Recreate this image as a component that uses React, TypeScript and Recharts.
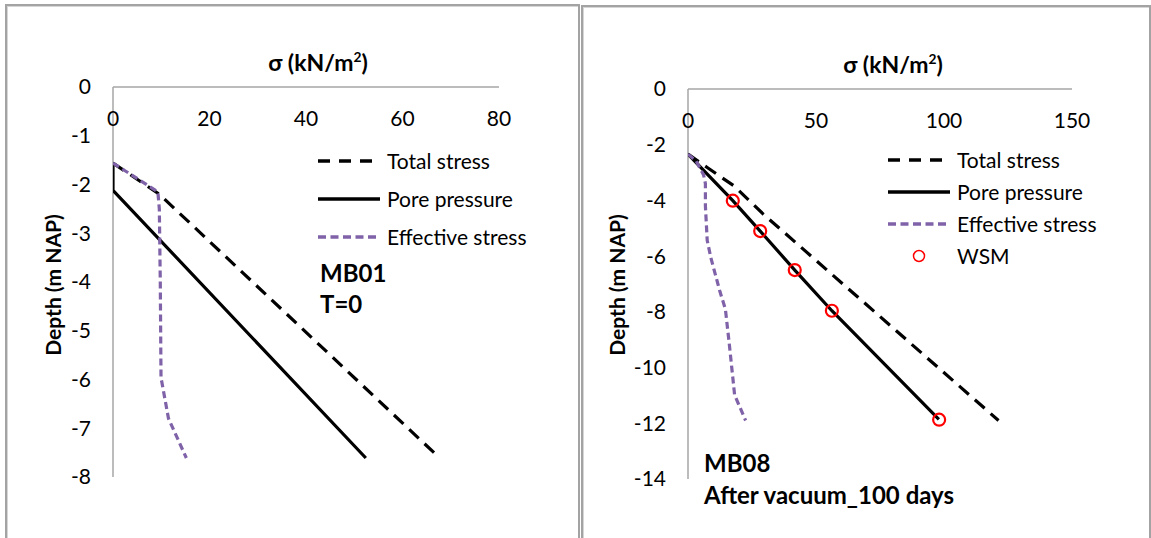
import React from "react"
import { ScatterChart, Scatter, XAxis, YAxis } from "recharts"

const FONT = "Lato, 'Liberation Sans', sans-serif"
const PURPLE = "#7f62a8"
const AXIS_GRAY = "#a6a6a6"

// MB01, T=0  (x = stress kN/m2, y = depth m NAP)
const mb01TotalStress = [
  { x: 0, y: -1.56 },
  { x: 9.6, y: -2.2 },
  { x: 67.7, y: -7.61 },
]
const mb01PorePressure = [
  { x: 0, y: -1.56 },
  { x: 0, y: -2.12 },
  { x: 52.4, y: -7.61 },
]
const mb01EffectiveStress = [
  { x: 0, y: -1.56 },
  { x: 9.3, y: -2.15 },
  { x: 9.6, y: -2.5 },
  { x: 9.8, y: -4.0 },
  { x: 9.95, y: -5.96 },
  { x: 11.5, y: -6.8 },
  { x: 15.2, y: -7.61 },
]
const mb01XTicks = [0, 20, 40, 60, 80]
const mb01YTicks = [0, -1, -2, -3, -4, -5, -6, -7, -8]

// MB08, after vacuum 100 days
const mb08TotalStress = [
  { x: 0, y: -2.34 },
  { x: 7.5, y: -2.82 },
  { x: 18, y: -3.48 },
  { x: 29.5, y: -4.5 },
  { x: 121.3, y: -11.9 },
]
const mb08PorePressure = [
  { x: 0, y: -2.34 },
  { x: 17.5, y: -4.01 },
  { x: 28.2, y: -5.1 },
  { x: 41.7, y: -6.5 },
  { x: 56.2, y: -7.96 },
  { x: 98.0, y: -11.86 },
]
const mb08EffectiveStress = [
  { x: 0, y: -2.34 },
  { x: 3.2, y: -2.59 },
  { x: 6.1, y: -3.09 },
  { x: 6.8, y: -3.4 },
  { x: 6.8, y: -4.2 },
  { x: 7.5, y: -5.43 },
  { x: 8.9, y: -6.05 },
  { x: 12.5, y: -7.28 },
  { x: 14.6, y: -7.9 },
  { x: 16.1, y: -9.13 },
  { x: 17.5, y: -10.36 },
  { x: 18.2, y: -10.98 },
  { x: 22.5, y: -11.9 },
]
const mb08Wsm = [
  { x: 17.5, y: -4.01 },
  { x: 28.2, y: -5.1 },
  { x: 41.7, y: -6.5 },
  { x: 56.2, y: -7.96 },
  { x: 98.1, y: -11.87 },
]
const mb08XTicks = [0, 50, 100, 150]
const mb08YTicks = [0, -2, -4, -6, -8, -10, -12, -14]

const noShape = () => <g />

function TopTick(props: any) {
  const { x, y, payload } = props
  return (
    <text x={x} y={y + 30} textAnchor="middle" dominantBaseline="central" fill="#000" fontSize={21} fontFamily={FONT}>
      {payload.value}
    </text>
  )
}

function StressChart({ width, margin, xDomain, xTicks, yDomain, yTicks, total, pore, effective, wsm }: any) {
  return (
    <ScatterChart width={width} height={538} margin={margin}>
      <XAxis
        type="number"
        dataKey="x"
        orientation="top"
        domain={xDomain}
        ticks={xTicks}
        height={20}
        tickSize={0}
        tickMargin={0}
        tickLine={false}
        axisLine={{ stroke: AXIS_GRAY, strokeWidth: 1.5 }}
        tick={(p: any) => <TopTick {...p} />}
        allowDataOverflow
      />
      <YAxis
        type="number"
        dataKey="y"
        domain={yDomain}
        ticks={yTicks}
        width={60}
        tickSize={0}
        tickMargin={22}
        tickLine={false}
        axisLine={{ stroke: AXIS_GRAY, strokeWidth: 1.5 }}
        tick={{ fill: "#000", fontSize: 21, fontFamily: FONT }}
        allowDataOverflow
      />
      <Scatter
        data={total}
        line={{ stroke: "#000", strokeWidth: 3.2, strokeDasharray: "13 8" }}
        shape={noShape}
        isAnimationActive={false}
      />
      <Scatter data={pore} line={{ stroke: "#000", strokeWidth: 3.2 }} shape={noShape} isAnimationActive={false} />
      <Scatter
        data={effective}
        line={{ stroke: PURPLE, strokeWidth: 3.2, strokeDasharray: "7 4" }}
        shape={noShape}
        isAnimationActive={false}
      />
      {wsm && (
        <Scatter
          data={wsm}
          shape={(p: any) => <circle cx={p.cx} cy={p.cy} r={6} fill="none" stroke="#ff0000" strokeWidth={2.2} />}
          isAnimationActive={false}
        />
      )}
    </ScatterChart>
  )
}

function LegendRow({ left, top, label, kind }: any) {
  let sample: React.ReactNode = null
  if (kind === "total") sample = <line x1={0} y1={10} x2={62} y2={10} stroke="#000" strokeWidth={3.4} strokeDasharray="12 9" />
  if (kind === "pore") sample = <line x1={0} y1={10} x2={62} y2={10} stroke="#000" strokeWidth={3.4} />
  if (kind === "effective") sample = <line x1={0} y1={10} x2={62} y2={10} stroke={PURPLE} strokeWidth={3.4} strokeDasharray="8 4.5" />
  if (kind === "wsm") sample = <circle cx={31} cy={10} r={5.5} fill="none" stroke="#ff0000" strokeWidth={1.5} />
  return (
    <div style={{ position: "absolute", left, top: top - 10, height: 20, display: "flex", alignItems: "center" }}>
      <svg width={62} height={20} style={{ display: "block" }}>
        {sample}
      </svg>
      <span style={{ marginLeft: 7, fontFamily: FONT, fontSize: 21, lineHeight: "20px", color: "#000", whiteSpace: "nowrap" }}>
        {label}
      </span>
    </div>
  )
}

function CenterText({ x, y, children, rotate, size = 21 }: any) {
  return (
    <div
      style={{
        position: "absolute",
        left: x,
        top: y,
        transform: `translate(-50%, -50%)${rotate ? " rotate(-90deg)" : ""}`,
        fontFamily: FONT,
        fontWeight: 700,
        fontSize: size,
        lineHeight: 1,
        whiteSpace: "nowrap",
        color: "#000",
      }}
    >
      {children}
    </div>
  )
}

function LeftText({ x, y, children }: any) {
  return (
    <div
      style={{
        position: "absolute",
        left: x,
        top: y,
        transform: "translateY(-50%)",
        fontFamily: FONT,
        fontWeight: 700,
        fontSize: 24,
        lineHeight: 1,
        whiteSpace: "nowrap",
        color: "#000",
      }}
    >
      {children}
    </div>
  )
}

const sigmaTitle = (
  <>
    σ (kN/m<sup style={{ fontSize: "0.6em", verticalAlign: "0.6em" }}>2</sup>)
  </>
)

export default function App() {
  return (
    <div style={{ position: "absolute", left: 0, top: 0, width: 1151, height: 538, overflow: "hidden", background: "#fff" }}>
      <div
        style={{
          position: "absolute",
          left: 5,
          top: 4,
          width: 575,
          height: 600,
          boxSizing: "border-box",
          border: "2px solid #a3a3a3",
          boxShadow: "inset 1px 1px 0 #d6d6d6",
        }}
      />
      <div
        style={{
          position: "absolute",
          left: 581,
          top: 5,
          width: 570,
          height: 600,
          boxSizing: "border-box",
          border: "2px solid #a3a3a3",
          boxShadow: "inset 1px 1px 0 #d6d6d6",
        }}
      />

      <div style={{ position: "absolute", left: 0, top: 0 }}>
        <StressChart
          width={580}
          margin={{ top: 67, right: 81, bottom: 61, left: 53 }}
          xDomain={[0, 80]}
          xTicks={mb01XTicks}
          yDomain={[-8, 0]}
          yTicks={mb01YTicks}
          total={mb01TotalStress}
          pore={mb01PorePressure}
          effective={mb01EffectiveStress}
        />
      </div>
      <div style={{ position: "absolute", left: 580, top: 0 }}>
        <StressChart
          width={571}
          margin={{ top: 69, right: 79, bottom: 59, left: 48 }}
          xDomain={[0, 150]}
          xTicks={mb08XTicks}
          yDomain={[-14, 0]}
          yTicks={mb08YTicks}
          total={mb08TotalStress}
          pore={mb08PorePressure}
          effective={mb08EffectiveStress}
          wsm={mb08Wsm}
        />
      </div>

      <CenterText x={318} y={62} size={23}>{sigmaTitle}</CenterText>
      <CenterText x={52} y={285} rotate>
        Depth (m NAP)
      </CenterText>
      <LegendRow left={318} top={161} label="Total stress" kind="total" />
      <LegendRow left={318} top={199} label="Pore pressure" kind="pore" />
      <LegendRow left={318} top={237} label="Effective stress" kind="effective" />
      <LeftText x={320} y={273}>MB01</LeftText>
      <LeftText x={320} y={304}>T=0</LeftText>

      <CenterText x={893} y={64} size={23}>{sigmaTitle}</CenterText>
      <CenterText x={616} y={285} rotate>
        Depth (m NAP)
      </CenterText>
      <LegendRow left={888} top={159.5} label="Total stress" kind="total" />
      <LegendRow left={888} top={192} label="Pore pressure" kind="pore" />
      <LegendRow left={888} top={224} label="Effective stress" kind="effective" />
      <LegendRow left={888} top={256} label="WSM" kind="wsm" />
      <LeftText x={704} y={463}>MB08</LeftText>
      <LeftText x={704} y={495}>After vacuum_100 days</LeftText>
    </div>
  )
}
